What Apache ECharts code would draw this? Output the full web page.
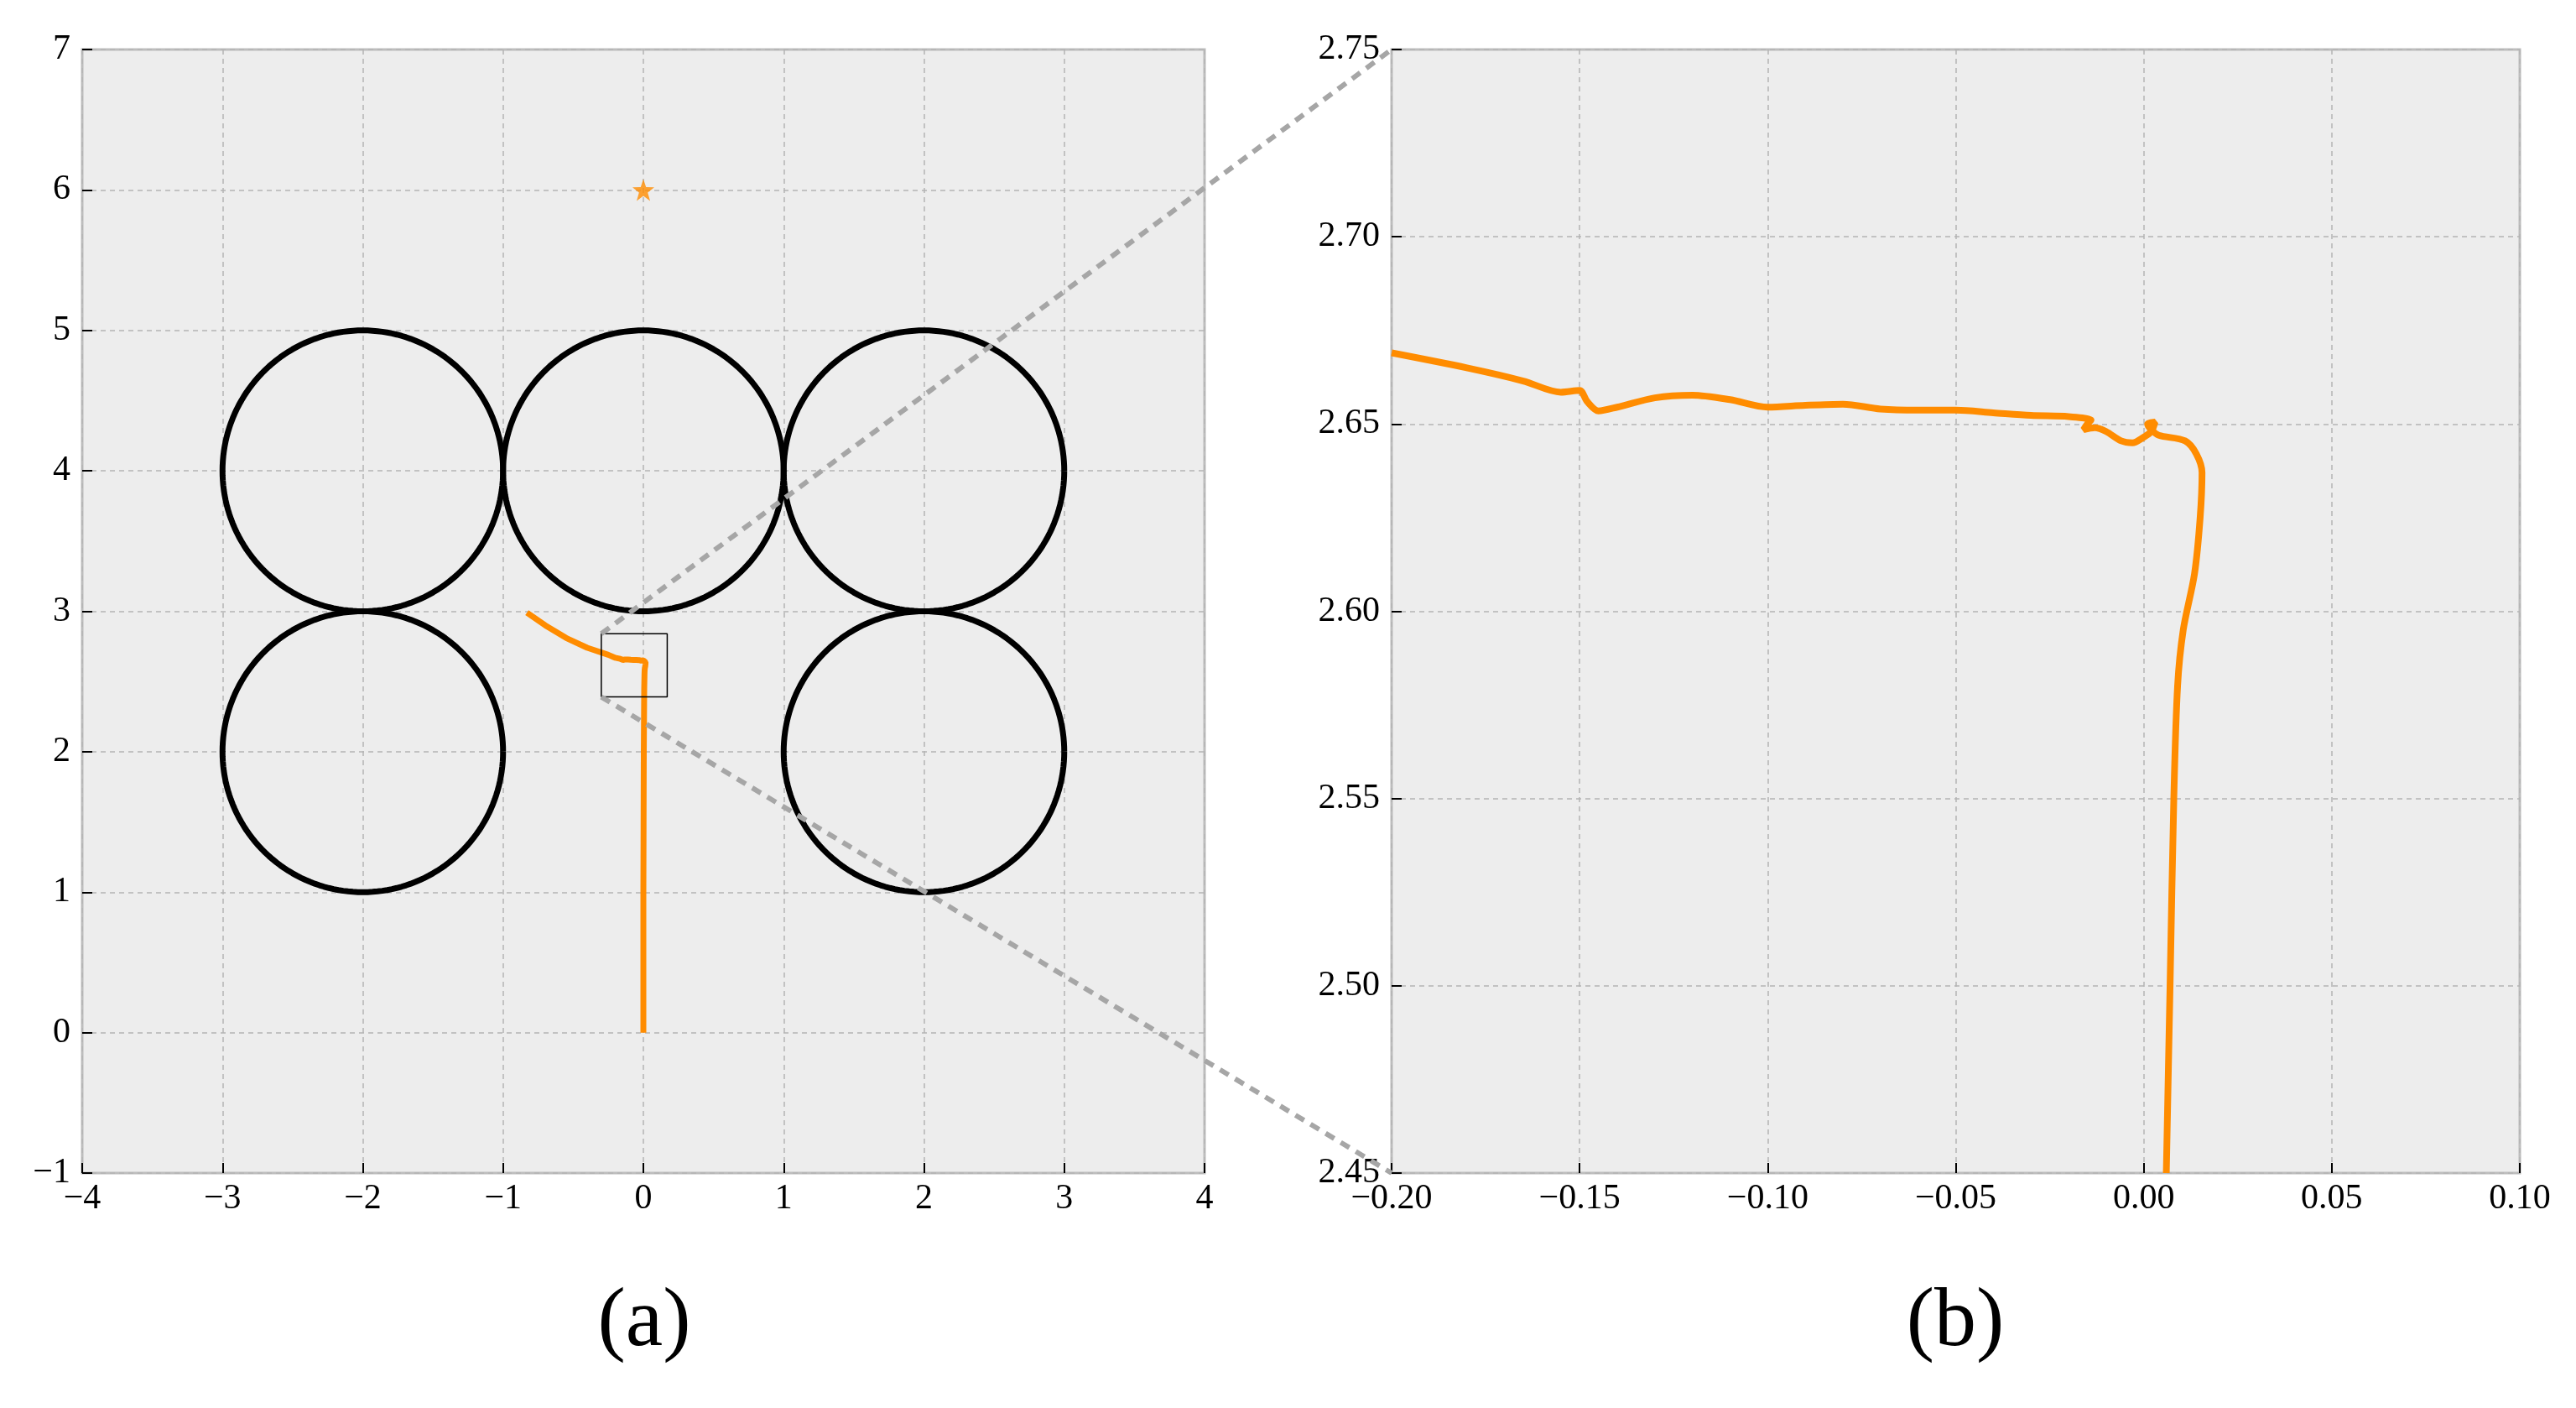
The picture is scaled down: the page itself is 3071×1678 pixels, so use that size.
<!DOCTYPE html><html><head><meta charset="utf-8">
<script src="https://cdn.jsdelivr.net/npm/echarts@6/dist/echarts.min.js"></script>
<style>html,body{margin:0;background:#fff}#c{width:3071px;height:1678px}</style></head><body><div id="c"></div>
<script>
const circleCenters=[[-2,4],[0,4],[2,4],[-2,2],[2,2]];
const circleRadius=1;
const goal=[[0,6]];
const trajStart=[[0,0],[0,1],[0.003,2.0],[0.006,2.45]];
const trajZoom=[[0.006,2.45],[0.007,2.50],[0.008,2.55],[0.009,2.58],[0.0105,2.595],[0.0135,2.61],[0.015,2.625],[0.0155,2.637],[0.014,2.642],[0.011,2.6455],[0.004,2.647],[0.002,2.6485],[0.001,2.650],[0.003,2.6505],[0.002,2.648],[0.0,2.6465],[-0.003,2.645],[-0.006,2.6455],[-0.01,2.648],[-0.013,2.649],[-0.016,2.6485],[-0.015,2.650],[-0.014,2.651],[-0.02,2.652],[-0.03,2.6523],[-0.04,2.653],[-0.05,2.6537],[-0.06,2.6537],[-0.07,2.654],[-0.08,2.6553],[-0.09,2.655],[-0.10,2.6545],[-0.11,2.6565],[-0.12,2.6577],[-0.13,2.657],[-0.14,2.6545],[-0.145,2.6535],[-0.148,2.656],[-0.150,2.659],[-0.155,2.6585],[-0.165,2.6615],[-0.18,2.665],[-0.2,2.669]];
const trajEnd=[[-0.2,2.669],[-0.25,2.69],[-0.4,2.74],[-0.55,2.81],[-0.7,2.9],[-0.83,2.99]];
const zoomBox=[[-0.3,2.39],[0.17,2.84]];
const leftTicks={min:-4,max:4,ymin:-1,ymax:7};
const rightTicks={min:-0.2,max:0.1,ymin:2.45,ymax:2.75};

const fmt=(d)=>v=>{let s=v.toFixed(d);return s.replace('-','\u2212');};
const font='"Liberation Serif", "DejaVu Serif", serif';
function axis(gi,min,max,iv,d,isX){return{type:'value',gridIndex:gi,min,max,interval:iv,
 axisLine:{show:false,onZero:false},axisTick:{inside:true,length:12,lineStyle:{color:'#000',width:2}},
 axisLabel:{formatter:fmt(d),color:'#000',fontFamily:font,fontSize:42,margin:isX?10:14},
 splitLine:{show:true,lineStyle:{type:[6,5],color:'#b4b4b4',width:1.5}}};}
const circles=circleCenters.map(c=>{const pts=[];for(let i=0;i<=180;i++){const a=i/180*2*Math.PI;pts.push([c[0]+circleRadius*Math.cos(a),c[1]+circleRadius*Math.sin(a)]);}
 return{type:'line',xAxisIndex:0,yAxisIndex:0,data:pts,showSymbol:false,smooth:false,lineStyle:{color:'#000',width:7},z:3};});
const full=trajStart.concat(trajZoom.slice(1)).concat(trajEnd.slice(1));
const bx=zoomBox;
const chart=echarts.init(document.getElementById('c'));
chart.setOption({animation:false,
 grid:[{left:98,top:59,width:1338,height:1339,backgroundColor:'#ededed',show:true,borderColor:'#bdbdbd',borderWidth:3},
       {left:1659,top:59,width:1345,height:1339,backgroundColor:'#ededed',show:true,borderColor:'#bdbdbd',borderWidth:3}],
 xAxis:[axis(0,-4,4,1,0,true),axis(1,-0.2,0.1,0.05,2,true)],
 yAxis:[axis(0,-1,7,1,0,false),axis(1,2.45,2.75,0.05,2,false)],
 series:[...circles,
  {type:'line',xAxisIndex:0,yAxisIndex:0,data:full,showSymbol:false,lineStyle:{color:'#ff8c00',width:7},z:4},
  {type:'scatter',xAxisIndex:0,yAxisIndex:0,data:goal,symbol:'path://M0,-10L2.35,-3.24L9.51,-3.09L3.8,1.24L5.88,8.09L0,4L-5.88,8.09L-3.8,1.24L-9.51,-3.09L-2.35,-3.24Z',symbolSize:26,itemStyle:{color:'#ff8c00'},z:5},
  {type:'line',xAxisIndex:0,yAxisIndex:0,data:[[bx[0][0],bx[0][1]],[bx[1][0],bx[0][1]],[bx[1][0],bx[1][1]],[bx[0][0],bx[1][1]],[bx[0][0],bx[0][1]]],showSymbol:false,lineStyle:{color:'#000',width:1.5},z:6},
  {type:'line',xAxisIndex:1,yAxisIndex:1,data:trajZoom,showSymbol:false,smooth:0.3,lineStyle:{color:'#ff8c00',width:8},z:4}
 ]});
const p1=chart.convertToPixel({gridIndex:0},[bx[0][0],bx[1][1]]);
const p2=chart.convertToPixel({gridIndex:0},[bx[0][0],bx[0][1]]);
const q1=chart.convertToPixel({gridIndex:1},[rightTicks.min,rightTicks.ymax]);
const q2=chart.convertToPixel({gridIndex:1},[rightTicks.min,rightTicks.ymin]);
const ls={stroke:'#a6a6a6',lineWidth:6,lineDash:[12,9]};
chart.setOption({graphic:[
 {type:'line',shape:{x1:p1[0],y1:p1[1],x2:q1[0],y2:q1[1]},style:ls,z:100},
 {type:'line',shape:{x1:p2[0],y1:p2[1],x2:q2[0],y2:q2[1]},style:ls,z:100},
 {type:'text',x:768,y:1577,style:{text:'(a)',font:'100px "Liberation Serif", serif',fill:'#000',align:'center',verticalAlign:'middle'}},
 {type:'text',x:2331,y:1577,style:{text:'(b)',font:'100px "Liberation Serif", serif',fill:'#000',align:'center',verticalAlign:'middle'}}
]});
</script></body></html>
